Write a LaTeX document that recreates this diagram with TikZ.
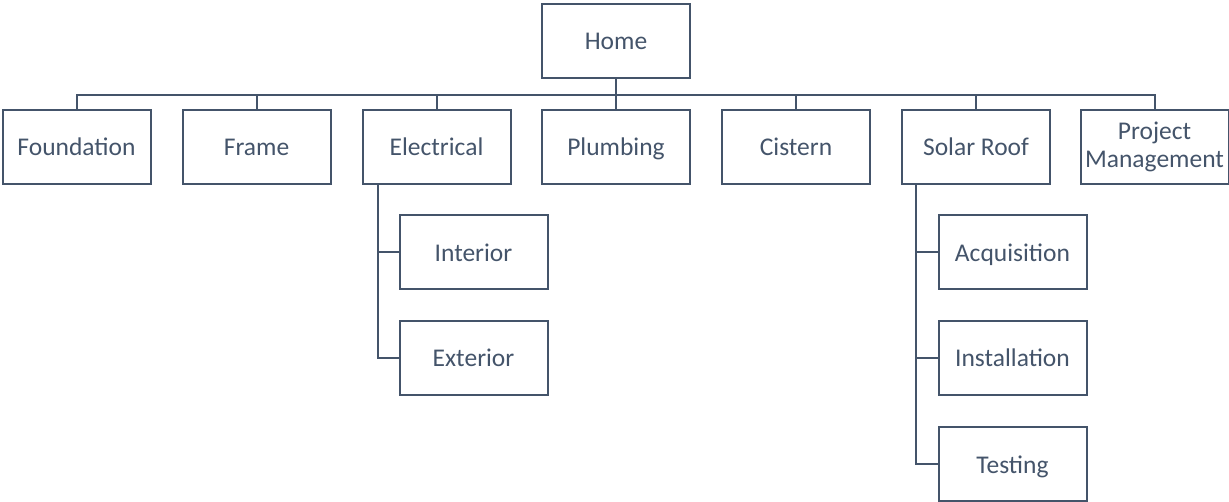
\documentclass[tikz,border=0pt]{standalone}
\usepackage{fontspec}
\setmainfont{Carlito}
\definecolor{ink}{HTML}{44546A}
\tikzset{
  boxbase/.style={draw=ink, line width=2pt, minimum width=148pt, minimum height=74pt, inner sep=0pt, align=center, text=ink, font=\fontsize{25.5}{28.5}\selectfont},
  box/.style={boxbase, text height=21pt, text depth=3pt},
  link/.style={draw=ink, line width=2pt}
}
\begin{document}
\begin{tikzpicture}[x=1pt,y=-1pt]
\useasboundingbox (0,0) rectangle (1229,502);
\node[box] (home) at (616,41) {Home};
\node[box] (found) at (76.5,147) {Foundation};
\node[box] (frame) at (256.5,147) {Frame};
\node[box] (elec) at (436.5,147) {Electrical};
\node[box] (plumb) at (616,147) {Plumbing};
\node[box] (cist) at (796,147) {Cistern};
\node[box] (solar) at (976,147) {Solar Roof};
\node[boxbase] (pm) at (1154.5,147) {Project\\Management};
\node[box] (inter) at (473.5,252.5) {Interior};
\node[box] (exter) at (473.5,358) {Exterior};
\node[box] (acq) at (1012.5,252.5) {Acquisition};
\node[box] (inst) at (1012.5,358) {Installation};
\node[box] (test) at (1012.5,464) {Testing};
\coordinate (bus) at (616,95);
\foreach \c in {found,frame,elec,plumb,cist,solar,pm}
  \draw[link] (home.south) -- (bus) -| (\c.north);
\coordinate (etrunk) at (378,184);
\draw[link] (etrunk) |- (inter.west);
\draw[link] (etrunk) |- (exter.west);
\coordinate (strunk) at (916,184);
\draw[link] (strunk) |- (acq.west);
\draw[link] (strunk) |- (inst.west);
\draw[link] (strunk) |- (test.west);
\end{tikzpicture}
\end{document}
